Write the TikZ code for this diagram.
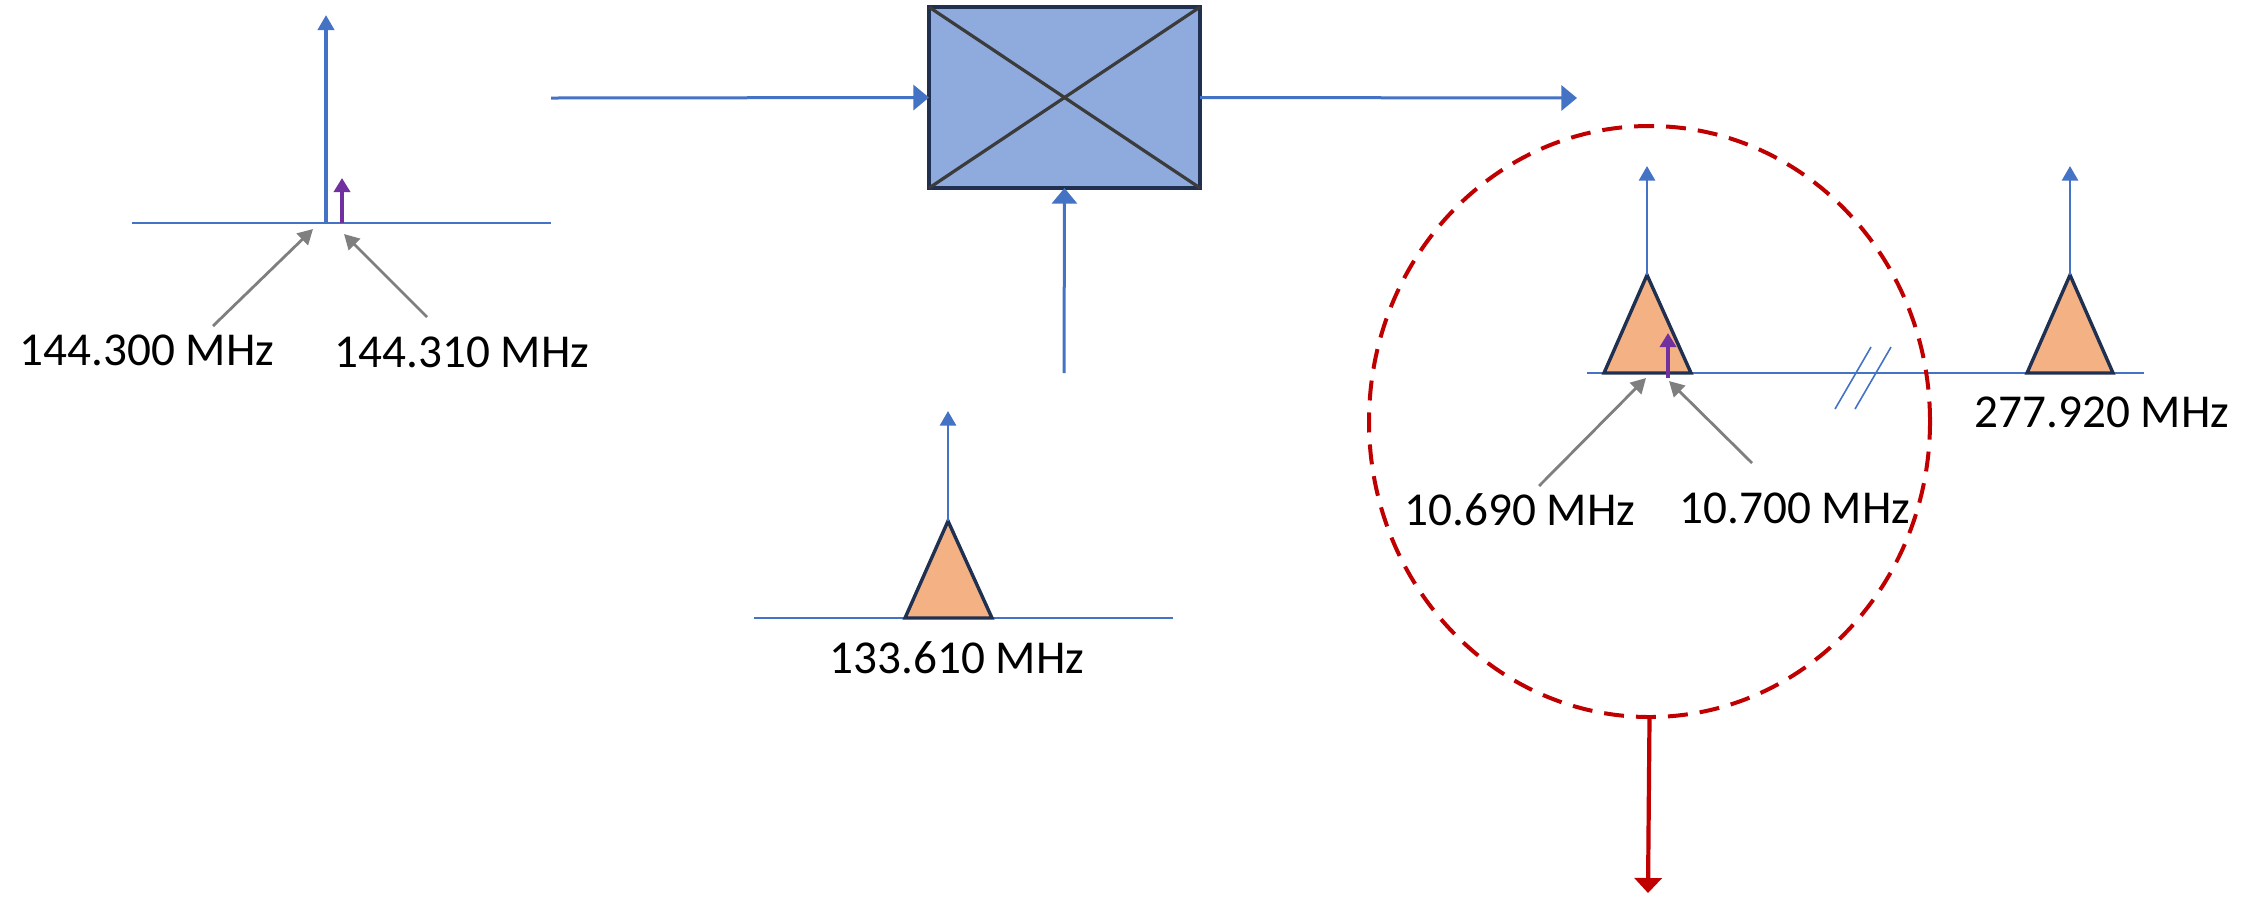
\documentclass[tikz,border=0pt]{standalone}
\usepackage{fontspec}
\setmainfont{Carlito}
\usetikzlibrary{arrows.meta,shapes.geometric}
\definecolor{sigblue}{HTML}{4472C4}
\definecolor{sigpurple}{HTML}{7030A0}
\definecolor{siggray}{HTML}{7F7F7F}
\definecolor{sigred}{HTML}{C00000}
\definecolor{sigorange}{HTML}{F4B183}
\definecolor{signavy}{HTML}{1F3050}
\definecolor{boxfill}{HTML}{8FAADC}
\definecolor{diag}{HTML}{3B3B3B}
\begin{document}
\begin{tikzpicture}[x=0.5pt,y=-0.5pt,
  axisline/.style={sigblue, line width=0.8pt},
  bigtone/.style={sigblue, line width=1.9pt, -{Triangle[width=8pt,length=7.5pt]}},
  smalltone/.style={sigblue, line width=1.4pt, -{Triangle[width=8pt,length=7.3pt]}},
  purpletone/.style={sigpurple, line width=1.9pt, -{Triangle[width=8pt,length=7pt]}},
  conn/.style={sigblue, line width=1.5pt, -{Triangle[width=12.5pt,length=7.8pt]}},
  pointer/.style={siggray, line width=1.4pt, -{Triangle[width=8pt,length=7.5pt]}},
  band/.style={draw=signavy, fill=sigorange, line width=1.7pt, line join=miter},
  freq/.style={font=\fontsize{23.6}{28}\selectfont, anchor=base, inner sep=0pt},
]
\useasboundingbox (0,0) rectangle (2262,896);

% ---------- mixer ----------
\node[draw=signavy, fill=boxfill, line width=1.7pt, minimum width=135.5pt,
      minimum height=90.5pt, inner sep=0pt, outer sep=0pt] (mix) at (1064.5,97.5) {};
\draw[diag, line width=1.6pt] (mix.north west) -- (mix.south east);
\draw[diag, line width=1.6pt] (mix.south west) -- (mix.north east);

\coordinate (rfin) at (551,98);
\coordinate (ifout) at (1577,98);
\coordinate (loin) at (1064,373);
\draw[conn] (rfin) -- (mix.west);
\draw[conn] (mix.east) -- (ifout);
\draw[conn] (loin) -- (mix.south);

% ---------- RF spectrum ----------
\coordinate (rfaxL) at (132,223);
\coordinate (rfaxR) at (551,223);
\draw[axisline] (rfaxL) -- (rfaxR);
\coordinate (rfc) at (326,223);
\coordinate (rfct) at (326,15);
\draw[bigtone] (rfc) -- (rfct);
\coordinate (rfs) at (342,223);
\coordinate (rfst) at (342,178);
\draw[purpletone] (rfs) -- (rfst);

\node[freq] (l1443) at (147,365) {144.300 MHz};
\node[freq] (l14431) at (462,367) {144.310 MHz};
\coordinate (p1s) at (213,326);
\coordinate (p1e) at (313,229);
\coordinate (p2s) at (427,317);
\coordinate (p2e) at (344,234);
\draw[pointer] (p1s) -- (p1e);
\draw[pointer] (p2s) -- (p2e);

% ---------- LO spectrum ----------
\coordinate (loaxL) at (754,618);
\coordinate (loaxR) at (1173,618);
\draw[axisline] (loaxL) -- (loaxR);
\coordinate (loapex) at (948,521);
\draw[band] (905,618) -- (992,618) -- (loapex) -- cycle;
\coordinate (lotop) at (948,411);
\draw[smalltone] (loapex) -- (lotop);
\node[freq] (l1336) at (957,673) {133.610 MHz};

% ---------- IF spectrum ----------
\coordinate (ifaxL) at (1587,373);
\coordinate (ifaxR) at (2144,373);
\draw[axisline] (ifaxL) -- (ifaxR);
\draw[axisline] (1835,409) -- (1871,347);
\draw[axisline] (1855,409) -- (1891,347);

\coordinate (ifapex) at (1647,275);
\draw[band] (1604,373) -- (1691,373) -- (ifapex) -- cycle;
\coordinate (iftop) at (1647,166);
\draw[smalltone] (ifapex) -- (iftop);
\coordinate (ifs) at (1668,378);
\coordinate (ifst) at (1668,333);
\draw[purpletone] (ifs) -- (ifst);

\coordinate (imapex) at (2070,275);
\draw[band] (2027,373) -- (2113,373) -- (imapex) -- cycle;
\coordinate (imtop) at (2070,166);
\draw[smalltone] (imapex) -- (imtop);

\node[freq] (l1069) at (1520,525) {10.690 MHz};
\node[freq] (l107) at (1795,523) {10.700 MHz};
\node[freq] (l2779) at (2102,427) {277.920 MHz};
\coordinate (p3s) at (1539,486);
\coordinate (p3e) at (1646,378);
\coordinate (p4s) at (1752,463);
\coordinate (p4e) at (1669,381);
\draw[pointer] (p3s) -- (p3e);
\draw[pointer] (p4s) -- (p4e);

% ---------- IF filter ring ----------
\node[ellipse, draw=sigred, line width=2pt, dash pattern=on 10pt off 6pt,
      minimum width=280.5pt, minimum height=295.5pt, inner sep=0pt, outer sep=0pt]
      (ring) at (1649.5,421.5) {};
\coordinate (outend) at (1648,893);
\draw[sigred, line width=2.1pt, -{Triangle[width=13.5pt,length=7.5pt]}] (ring.south) -- (outend);
\end{tikzpicture}
\end{document}
